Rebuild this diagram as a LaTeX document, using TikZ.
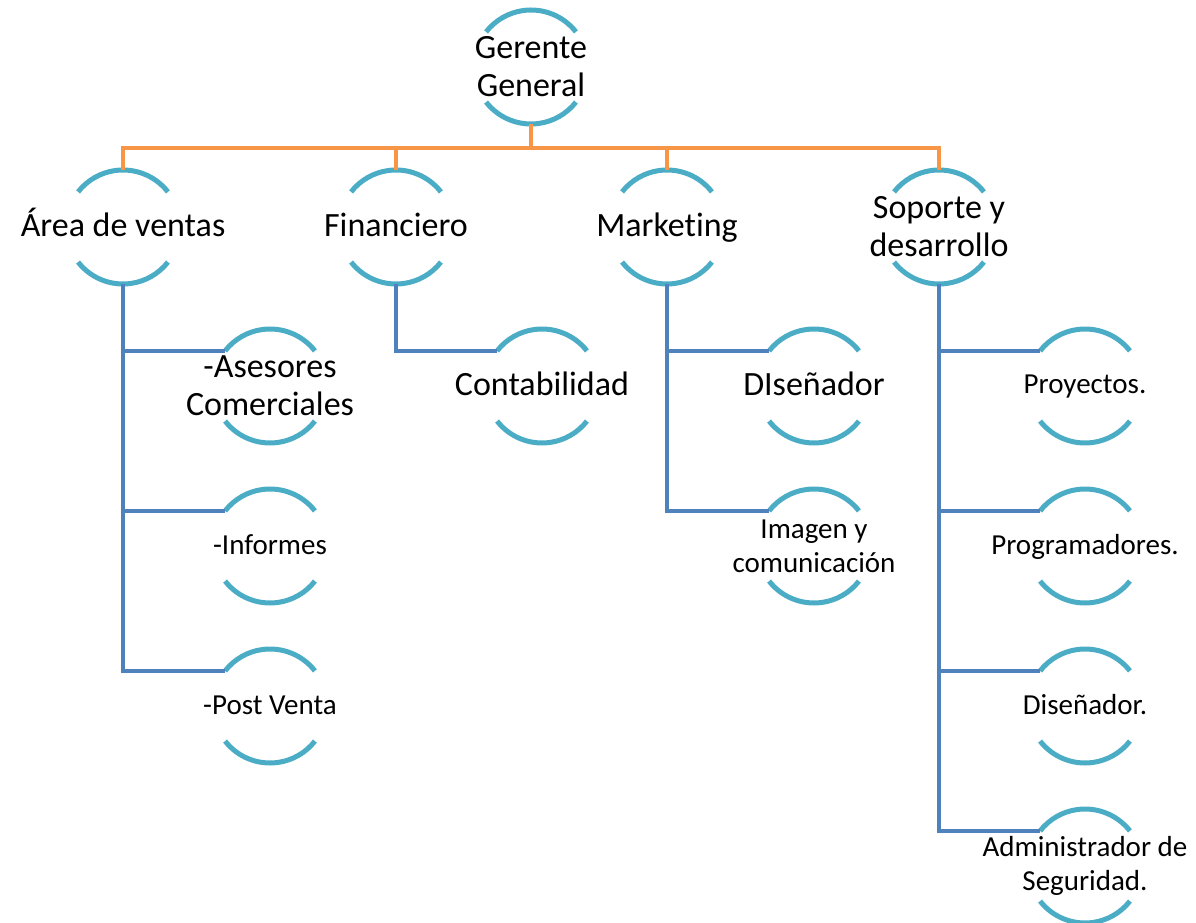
\documentclass[tikz,border=0pt]{standalone}
\usepackage{fontspec}
\setmainfont{Carlito}[Ligatures=NoCommon]
\usetikzlibrary{calc}

\definecolor{arcblue}{HTML}{4BACC6}
\definecolor{busorange}{HTML}{F79646}
\definecolor{linkblue}{HTML}{4F81BD}

\begin{document}
\begin{tikzpicture}[x=1pt, y=1pt,
  head/.style={align=center, font=\fontsize{34}{38}\selectfont},
  member/.style={align=center, font=\fontsize{29}{34}\selectfont},
  headline/.style={head, text height=26pt, text depth=7pt},
  memberline/.style={member, text height=22pt, text depth=6pt},
  arcpen/.style={color=arcblue, line width=5pt},
  bus/.style={color=busorange, line width=4.5pt},
  link/.style={color=linkblue, line width=4.5pt}]
\useasboundingbox (0, 0) rectangle (1196, 922);

% top and first level
\node[head] (gg) at (531, 855) {Gerente\\General};
\node[headline] (ventas) at (123, 695) {Área de ventas};
\node[headline] (finan) at (396, 695) {Financiero};
\node[headline] (mark) at (667, 695) {Marketing};
\node[head] (sop) at (939, 695) {Soporte y\\desarrollo};

% second level
\node[head] (ases) at (270, 536) {-Asesores\\Comerciales};
\node[memberline] (inf) at (270, 376) {-Informes};
\node[memberline] (post) at (270, 216) {-Post Venta};
\node[headline] (conta) at (542, 536) {Contabilidad};
\node[headline] (disen) at (814, 536) {DIseñador};
\node[member] (imag) at (814, 376) {Imagen y\\comunicación};
\node[memberline] (proy) at (1085, 536) {Proyectos.};
\node[memberline] (prog) at (1085, 376) {Programadores.};
\node[memberline] (dis) at (1085, 216) {Diseñador.};
\node[member] (adm) at (1085, 56) {Administrador de\\Seguridad.};

% arcs round every box
\foreach \n in {gg,ventas,finan,mark,sop,ases,inf,post,conta,disen,imag,proy,prog,dis,adm} {
  \draw[arcpen] ($(\n)+(38:57)$) arc[start angle=38, end angle=142, radius=57];
  \draw[arcpen] ($(\n)+(218:57)$) arc[start angle=218, end angle=322, radius=57];
  \coordinate (\n-top) at ($(\n)+(0,57)$);
  \coordinate (\n-bot) at ($(\n)+(0,-57)$);
  \coordinate (\n-in) at ($(\n)+(142:57)$);
}

% orange bus
\coordinate (bus) at (531, 774);
\draw[bus] (gg-bot) -- (bus);
\foreach \n in {ventas,finan,mark,sop}
  \draw[bus] (bus) -| (\n-top);

% blue links
\foreach \n in {ases,inf,post}
  \draw[link] (ventas-bot) |- (\n-in);
\draw[link] (finan-bot) |- (conta-in);
\foreach \n in {disen,imag}
  \draw[link] (mark-bot) |- (\n-in);
\foreach \n in {proy,prog,dis,adm}
  \draw[link] (sop-bot) |- (\n-in);
\end{tikzpicture}
\end{document}
